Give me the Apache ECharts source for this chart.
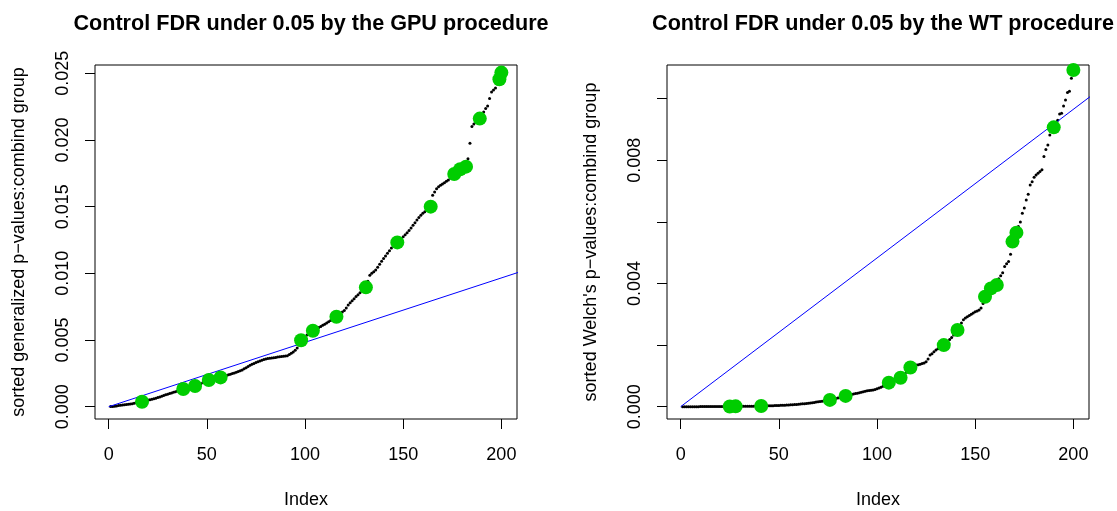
<!DOCTYPE html>
<html>
<head>
<meta charset="utf-8">
<script src="https://cdn.jsdelivr.net/npm/echarts@6/dist/echarts.min.js"></script>
<style>
html, body { margin: 0; background: #fff; }
#chart { width: 1117px; height: 511px; }
</style>
</head>
<body>
<div id="chart"></div>
<script>
// sorted p-values, index 1..200
const gpuValues = [
    0.00001, 0.00002, 0.00004, 0.00006, 0.00009, 0.00011, 0.00013, 0.00015, 0.00017, 0.00019,
    0.00021, 0.00023, 0.00026, 0.00029, 0.00031, 0.00034, 0.00037, 0.00041, 0.00046, 0.00050,
    0.00053, 0.00057, 0.00060, 0.00064, 0.00069, 0.00073, 0.00078, 0.00084, 0.00089, 0.00094,
    0.00099, 0.00103, 0.00108, 0.00112, 0.00117, 0.00121, 0.00127, 0.00133, 0.00136, 0.00139,
    0.00143, 0.00146, 0.00150, 0.00155, 0.00160, 0.00166, 0.00173, 0.00181, 0.00188, 0.00194,
    0.00200, 0.00203, 0.00206, 0.00209, 0.00212, 0.00216, 0.00220, 0.00225, 0.00230, 0.00235,
    0.00240, 0.00244, 0.00249, 0.00253, 0.00258, 0.00264, 0.00270, 0.00276, 0.00284, 0.00293,
    0.00302, 0.00311, 0.00318, 0.00325, 0.00331, 0.00337, 0.00343, 0.00349, 0.00354, 0.00358,
    0.00361, 0.00364, 0.00366, 0.00368, 0.00370, 0.00372, 0.00374, 0.00376, 0.00378, 0.00380,
    0.00383, 0.00391, 0.00401, 0.00410, 0.00424, 0.00440, 0.00462, 0.00498, 0.00508, 0.00521,
    0.00537, 0.00551, 0.00562, 0.00570, 0.00578, 0.00586, 0.00594, 0.00602, 0.00610, 0.00618,
    0.00627, 0.00637, 0.00647, 0.00657, 0.00666, 0.00675, 0.00688, 0.00700, 0.00711, 0.00722,
    0.00740, 0.00762, 0.00780, 0.00795, 0.00810, 0.00826, 0.00840, 0.00855, 0.00870, 0.00884,
    0.00895, 0.00940, 0.00985, 0.01000, 0.01012, 0.01025, 0.01045, 0.01068, 0.01090, 0.01112,
    0.01130, 0.01150, 0.01170, 0.01190, 0.01206, 0.01220, 0.01232, 0.01245, 0.01260, 0.01275,
    0.01290, 0.01305, 0.01322, 0.01340, 0.01360, 0.01380, 0.01400, 0.01418, 0.01435, 0.01450,
    0.01462, 0.01475, 0.01488, 0.01500, 0.01585, 0.01610, 0.01635, 0.01650, 0.01660, 0.01670,
    0.01680, 0.01690, 0.01700, 0.01715, 0.01730, 0.01745, 0.01760, 0.01770, 0.01780, 0.01788,
    0.01795, 0.01800, 0.01860, 0.01975, 0.02100, 0.02120, 0.02135, 0.02148, 0.02160, 0.02185,
    0.02210, 0.02235, 0.02255, 0.02310, 0.02360, 0.02375, 0.02390, 0.02420, 0.02455, 0.02505
]
const wtValues = [
    0.000000, 0.000000, 0.000000, 0.000000, 0.000001, 0.000001, 0.000001, 0.000001, 0.000001, 0.000002,
    0.000002, 0.000002, 0.000003, 0.000003, 0.000003, 0.000004, 0.000004, 0.000005, 0.000005, 0.000006,
    0.000006, 0.000007, 0.000007, 0.000008, 0.000008, 0.000009, 0.000010, 0.000010, 0.000011, 0.000012,
    0.000013, 0.000013, 0.000014, 0.000015, 0.000016, 0.000017, 0.000018, 0.000019, 0.000020, 0.000021,
    0.000022, 0.000024, 0.000025, 0.000027, 0.000029, 0.000031, 0.000033, 0.000035, 0.000037, 0.000040,
    0.000043, 0.000046, 0.000049, 0.000052, 0.000056, 0.000060, 0.000064, 0.000069, 0.000074, 0.000080,
    0.000086, 0.000092, 0.000099, 0.000106, 0.000113, 0.000121, 0.000130, 0.000139, 0.000148, 0.000158,
    0.000168, 0.000180, 0.000195, 0.000205, 0.000212, 0.000220, 0.000235, 0.000252, 0.000268, 0.000283,
    0.000297, 0.000312, 0.000330, 0.000350, 0.000368, 0.000384, 0.000398, 0.000412, 0.000426, 0.000440,
    0.000455, 0.000470, 0.000486, 0.000503, 0.000520, 0.000528, 0.000535, 0.000545, 0.000560, 0.000580,
    0.000605, 0.000632, 0.000660, 0.000700, 0.000740, 0.000780, 0.000806, 0.000832, 0.000858, 0.000884,
    0.000912, 0.000940, 0.000990, 0.001050, 0.001120, 0.001190, 0.001270, 0.001310, 0.001330, 0.001350,
    0.001365, 0.001380, 0.001400, 0.001420, 0.001460, 0.001550, 0.001680, 0.001720, 0.001780, 0.001840,
    0.001880, 0.001920, 0.001960, 0.002000, 0.002060, 0.002120, 0.002180, 0.002250, 0.002330, 0.002410,
    0.002490, 0.002600, 0.002720, 0.002820, 0.002880, 0.002920, 0.002960, 0.003000, 0.003040, 0.003080,
    0.003110, 0.003140, 0.003200, 0.003350, 0.003570, 0.003700, 0.003780, 0.003840, 0.003880, 0.003920,
    0.003950, 0.004150, 0.004250, 0.004350, 0.004550, 0.004640, 0.004710, 0.004950, 0.005360, 0.005480,
    0.005650, 0.005850, 0.006000, 0.006280, 0.006450, 0.006710, 0.006900, 0.007200, 0.007300, 0.007450,
    0.007520, 0.007580, 0.007640, 0.007690, 0.008120, 0.008350, 0.008500, 0.008820, 0.008950, 0.009070,
    0.009200, 0.009300, 0.009500, 0.009530, 0.009760, 0.009960, 0.010200, 0.010240, 0.010660, 0.010930
]
// indices marked in green
const gpuMarked = [17, 38, 44, 51, 57, 98, 104, 116, 131, 147, 164, 176, 179, 182, 189, 199, 200]
const wtMarked = [25, 28, 41, 76, 84, 106, 112, 117, 134, 141, 155, 158, 161, 169, 171, 190, 200]
// FDR reference line
const fdrLine = [[0, 0], [215, 0.01038]]

const xTicks = [0, 50, 100, 150, 200]
const gpuYTicks = [0, 0.005, 0.010, 0.015, 0.020, 0.025]
const wtYTicks = [0, 0.002, 0.004, 0.006, 0.008, 0.010]
const wtYLabels = [0, 0.004, 0.008]

const font = '"Liberation Sans", Arial, Helvetica, sans-serif'
const toPoints = vals => vals.map((v, i) => [i + 1, v])
const pick = (vals, idx) => idx.map(i => [i, vals[i - 1]])

function xAxis(gridIndex) {
    return {
        type: 'value', gridIndex: gridIndex,
        min: -6.96, max: 207.96,
        name: 'Index', nameLocation: 'middle', nameGap: 72,
        nameTextStyle: { color: '#000', fontSize: 18, fontFamily: font },
        axisLine: { show: false, onZero: false },
        axisTick: { show: true, length: 10, customValues: xTicks, lineStyle: { color: '#000' } },
        axisLabel: { customValues: xTicks, margin: 27, color: '#000', fontSize: 18, fontFamily: font },
        splitLine: { show: false }
    }
}

function yAxis(gridIndex, min, max, ticks, labels, name) {
    return {
        type: 'value', gridIndex: gridIndex,
        min: min, max: max,
        name: name, nameLocation: 'middle', nameGap: 67,
        nameTextStyle: { color: '#000', fontSize: 18, fontFamily: font },
        axisLine: { show: false, onZero: false },
        axisTick: { show: true, length: 10, customValues: ticks, lineStyle: { color: '#000' } },
        axisLabel: {
            customValues: labels, rotate: 90, margin: 23,
            color: '#000', fontSize: 18, fontFamily: font,
            formatter: v => v.toFixed(3)
        },
        splitLine: { show: false }
    }
}

function panel(idx, vals, marked) {
    return [{
        type: 'scatter', xAxisIndex: idx, yAxisIndex: idx,
        symbolSize: 3, itemStyle: { color: '#000', opacity: 1 }, z: 2,
        data: toPoints(vals)
    }, {
        type: 'line', xAxisIndex: idx, yAxisIndex: idx,
        symbol: 'none', lineStyle: { color: '#0000ff', width: 1 }, z: 3,
        data: fdrLine
    }, {
        type: 'scatter', xAxisIndex: idx, yAxisIndex: idx,
        symbolSize: 14, itemStyle: { color: '#00cd00', opacity: 1 }, z: 4,
        data: pick(vals, marked)
    }]
}

const chart = echarts.init(document.getElementById('chart'))
chart.setOption({
    animation: false,
    backgroundColor: '#fff',
    title: [{
        text: 'Control FDR under 0.05 by the GPU procedure',
        left: 306, top: 8, textAlign: 'center',
        textStyle: { color: '#000', fontSize: 21.6, fontWeight: 'bold', fontFamily: font }
    }, {
        text: 'Control FDR under 0.05 by the WT procedure',
        left: 878, top: 8, textAlign: 'center',
        textStyle: { color: '#000', fontSize: 21.6, fontWeight: 'bold', fontFamily: font }
    }],
    grid: [
        { left: 95, top: 65, width: 422, height: 354, show: true, borderColor: '#000', borderWidth: 1, outerBoundsMode: 'none' },
        { left: 667, top: 65, width: 422, height: 354, show: true, borderColor: '#000', borderWidth: 1, outerBoundsMode: 'none' }
    ],
    xAxis: [xAxis(0), xAxis(1)],
    yAxis: [
        yAxis(0, -0.00092, 0.02562, gpuYTicks, gpuYTicks, 'sorted generalized p\u2212values:combind group'),
        yAxis(1, -0.0004, 0.011094, wtYTicks, wtYLabels, 'sorted Welch\'s p\u2212values:combind group')
    ],
    series: panel(0, gpuValues, gpuMarked).concat(panel(1, wtValues, wtMarked))
})
</script>
</body>
</html>
